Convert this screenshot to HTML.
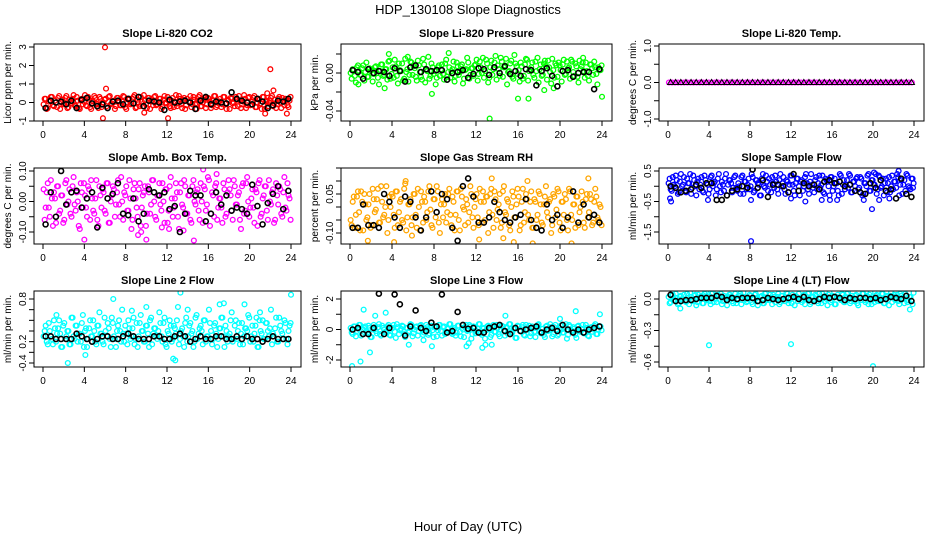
<!DOCTYPE html>
<html><head><meta charset="utf-8"><style>
html,body{margin:0;padding:0;background:#fff;}
svg{display:block;font-family:"Liberation Sans",Arial,sans-serif;}
</style></head><body>
<svg id="chart" width="936" height="540" viewBox="0 0 936 540" xmlns="http://www.w3.org/2000/svg">
<text x="468" y="14" text-anchor="middle" font-size="13">HDP_130108  Slope Diagnostics</text>
<text x="468" y="531" text-anchor="middle" font-size="13">Hour of Day (UTC)</text>
</svg>
<script>
// ---- data ----
const xTicks=[0,4,8,12,16,20,24];
const titles=["Slope Li-820 CO2","Slope Li-820 Pressure","Slope Li-820 Temp.","Slope Amb. Box Temp.","Slope Gas Stream RH","Slope Sample Flow","Slope Line 2 Flow","Slope Line 3 Flow","Slope Line 4 (LT) Flow"];
const yTitles=["Licor ppm per min.","kPa per min.","degrees C per min.","degrees C per min.","percent per min.","ml/min per min.","ml/min per min.","ml/min per min.","ml/min per min."];
const yTickVals=[[-1,0,1,2,3],[-0.04,-0.02,0,0.02],[-1,-0.5,0,0.5,1],[-0.1,-0.05,0,0.05,0.1],[-0.1,-0.05,0,0.05,0.1,0.15],[-1.5,-1,-0.5,0,0.5],[-0.4,-0.2,0,0.2,0.4,0.6,0.8],[-2,-1,0,1,2],[-0.6,-0.45,-0.3,-0.15,0]];
const yTickLabels=[["-1","0","1","2","3"],["-0.04","","0.00",""],["-1.0","","0.0","","1.0"],["-0.10","","0.00","","0.10"],["-0.10","","","0.05","",""],["-1.5","","-0.5","","0.5"],["-0.4","","0.2","","","","0.8"],["-2","","0","","2"],["-0.6","","-0.3","","0.0"]];
const yRanges=[[-1,3],[-0.04,0],[-1,1],[-0.1,0.1],[-0.1,0.05],[-1.5,0.5],[-0.4,0.8],[-2,2],[-0.6,0]];
const colors=["#ff0000","#00ff00","#ff00ff","#ff00ff","#ffa500","#0000ff","#00ffff","#00ffff","#00ffff"];

const s1=[-.1,.2,-.3,.1,.3,-.2,0,.25,-.35,.15,-.05,.35,-.25,.05,.2,-.15,.3,-.3,.1,-.1,.4,-.2,.15,-.35,.05,.25,-.1,.3,-.25,0,.2,-.3,.35,-.05,.1,-.2,.25,-.15,.05,.3,-.35,.15,-.1,.2,.4,-.25,0,.3,-.2,.1,-.3,.25,.05,-.15,.35,-.1,.2,-.35,.15,0,.3,-.2,.1,-.25,.4,-.05,.2,-.3,.25,-.15,.05,.35,-.1,.15,-.35,.3,-.2,0,.25,-.1,.2,-.3,.1,.35,-.15,.05,-.25,.3,-.05,.15,-.35,.2,0,.3,-.2,.1,-.1,.4,-.3,.25,-.15,.05,.35,-.25,.2,-.05,.3,-.35,.1,0,.25,-.2,.15,-.1,.3,-.3,.05,.2,-.15,.1];
const s2=[0,.004,-.003,.006,.002,-.002,.008,.001,-.004,.005,.003,-.001,.007,-.005,.002,.009,-.002,.004,.012,-.006,.006,.014,-.003,.01,.002,-.008,.015,.004,-.002,.011,.007,-.004,.013,.001,-.007,.009,.003,.017,-.003,.006,.002,-.005,.008,.004,-.001,.01,-.004,.006,.002,.012,-.003,.007,.001,.009,-.006,.004,.011,-.002,.005,.008,.014,-.001,.006,.016,.002,.01,-.005,.013,.004,.018,.008,-.003,.012,.006,.015,.001,.01,-.004,.019,.007,.003,.011,-.006,.009,.014,.002,.006,-.002,.012,.016,.004,-.003,.01,.007,.013,.001,.015,-.005,.008,.011,.003,.009,-.002,.012,.006,.014,.001,.01,-.004,.013,.007,.002,.011,-.003,.009,.005,.012,-.001,.006,.003];
const s3=[0,0,0,0,0,0,0,0,0,0,0,0,0,0,0,0,0,0,0,0,0,0,0,0,0,0,0,0,0,0,0,0,0,0,0,0,0,0,0,0,0,0,0,0,0,0,0,0,0,0,0,0,0,0,0,0,0,0,0,0,0,0,0,0,0,0,0,0,0,0,0,0,0,0,0,0,0,0,0,0];
const s4=[.04,-.02,.06,-.05,.01,.03,-.07,.05,-.03,.02,-.06,.07,0,-.04,.05,-.01,.03,-.08,.06,-.02,.02,-.05,.04,.07,-.03,.01,-.06,.05,-.02,.03,-.04,.06,-.07,.02,.04,-.01,.07,-.05,0,.03,.05,-.03,.01,-.06,.06,-.02,.04,-.08,.02,.05,-.04,.03,-.01,.07,-.05,.02,.06,-.03,0,.04,-.07,.05,.01,-.02,.06,-.05,.03,-.01,.07,-.04,.02,-.06,.05,0,.03,-.03,.06,-.07,.04,-.01,.07,-.04,.02,.05,-.06,.01,-.02,.06,-.05,.03,.04,-.03,.07,-.01,.02,-.06,.05,-.04,.06,0,-.02,.04,-.07,.03,.06,-.05,.01,.05,-.03,.07,-.01,.04,-.06,.02,.05,-.04,.03,-.02,.06,.01];
const s5=[-.05,.02,-.08,.04,-.02,.06,-.09,.01,-.04,.05,-.07,.03,-.01,.07,-.06,.02,-.03,.08,-.05,0,.04,-.08,.06,-.02,.03,-.06,.09,-.04,.01,-.07,.05,-.03,.07,-.09,.02,.04,-.05,.06,-.01,-.08,.03,.08,-.06,.01,-.04,.05,-.02,.07,-.07,.02,-.03,.06,-.09,.04,-.01,.03,-.06,.08,-.04,0,.05,-.07,.02,.06,-.05,.04,-.02,.07,-.08,.03,-.01,.05,-.06,.08,-.03,.02,-.09,.06,-.04,.01,.04,-.07,.07,-.02,.03,-.05,.06,-.08,.02,-.03,.05,-.06,.01,.08,-.04,.03,-.07,.04,-.01,.06,-.09,.02,.05,-.05,.07,-.03,.01,-.08,.04,-.02,.06,-.06,.03,-.04,.05,-.07,.02,.04,-.05,0];
const s6=[.1,-.1,.3,0,.2,-.2,.4,.05,-.15,.25,.1,-.25,.35,0,.15,-.1,.3,-.2,.2,.05,-.1,.35,.1,-.3,.25,0,.15,-.15,.4,.05,.2,-.2,.3,-.05,.1,-.25,.35,.15,-.1,.25,0,.3,-.15,.2,.05,-.3,.4,-.05,.15,.25,-.2,.1,.35,-.1,.2,0,.3,-.25,.15,.05,.35,-.15,.1,.25,-.3,.2,0,.4,-.1,.15,.05,-.2,.3,.1,-.05,.35,-.25,.2,0,.3,-.15,.25,.1,-.3,.35,.05,-.1,.2,.4,-.2,.15,0,.3,-.05,.25,-.25,.1,.35,-.15,.2,.05,.4,-.1,.3,0,-.3,.25,.1,-.2,.35,.15,-.05,.3,.05,-.25,.2,.4,0,-.1,.25];
const s7=[.1,.3,-.05,.2,.05,.4,0,.25,.15,-.1,.35,.1,.2,-.05,.45,.05,.3,.15,0,.5,.2,-.1,.25,.1,.4,0,.3,.55,.15,-.05,.2,.35,.05,.45,.1,-.1,.3,.2,.6,0,.15,.4,.05,.25,-.05,.35,.1,.5,.2,0,.3,-.1,.45,.15,.25,.05,.55,.1,.35,-.05,.2,.4,0,.3,.15,.65,.05,.25,-.1,.45,.1,.35,.2,0,.5,.15,.3,-.05,.4,.1,.6,.2,.05,.35,-.1,.25,.45,.1,.3,0,.15,.55,.05,.4,.2,-.05,.35,.1,.25,.5,0,.3,.15,.45,-.1,.2,.4,.05,.35,.1,.6,.15,.25,0,.45,.2,.05,.35,-.05,.3];
const s8=[.1,-.3,.2,-.1,.3,-.4,0,.2,-.2,.1,-.5,.3,-.1,.15,-.3,.25,0,-.2,.3,-.4,.1,-.15,.35,-.3,.05,.2,-.5,.1,-.1,.3,-.25,.15,-.4,.25,0,-.2,.3,-.35,.1,-.05,.2,-.45,.3,-.1,.15,-.3,.05,.35,-.2,0,-.4,.25,-.15,.1,-.5,.3,-.05,.2,-.3,.15,-.1,.35,-.25,.05,-.6,.2,0,-.35,.3,-.15,.1,-.45,.25,-.05,.15,-.3,.35,-.2,.05,-.55,.2,-.1,.3,-.4,0,.25,-.25,.1,-.5,.3,-.15,.05,-.35,.2,-.1,.35,-.45,.15,0,-.3,.25,-.2,.1,-.6,.3,-.05,.15,-.35,.2,-.1,.05,-.25,.3,-.4,.1,-.15,.25,-.3,0,.2];
const s9=[.02,-.03,.04,-.01,.01,-.04,.03,0,-.02,.05,-.05,.02,-.01,.04,-.03,.01,.03,-.04,.02,0,-.02,.05,-.03,.01,.04,-.01,-.05,.03,0,.02,.04,-.02,.01,-.04,.03,.05,-.01,.02,-.03,0,.03,-.05,.04,.01,-.02,.02,-.04,.05,0,-.01,.01,.04,-.03,.02,-.05,.03,0,-.02,.05,-.01,-.04,.02,.03,-.02,.01,-.03,.04,0,.05,-.05,.02,-.01,.03,-.04,.01,.05,-.02,0,.04,-.03,.03,-.05,.02,.01,-.01,.04,-.03,.05,0,-.02,.01,.03,-.04,.02,-.01,.05,-.03,.02,.04,-.05,0,.03,-.02,.01,.05,-.04,.02,-.01,.03,-.03,.04,0,-.02,.05,.01,-.04,.03,-.01,.02,-.05];
const series=[s1,s2,s3,s4,s5,s6,s7,s8,s9];

const t1=[.2,-.35,.05,.3,-.15,.1,-.25,.35,0,-.1,.25,-.3,.15,-.05,.4,-.2,.1,-.35,.2,.05,-.15,.3,-.25,.1,.35,-.05,-.3,.2,0,.15,-.2,.3,-.1,.05,-.35,.25,.1,-.15,.35,-.25,0,.2,-.05,.3,-.3,.15,-.2,.05,.4,-.1,.25,-.35,.1,.3,-.15,0,.2,-.25,.35,-.05,.1,-.3,.25,.05,-.2,.35,-.1,.15,-.35,.2,0,-.25,.3,-.05,.1,.4,-.2,.15,-.3,.25,.05,-.15,.35,-.25,0,.2,-.1,.3,-.35,.1,.25,-.05,-.2,.15,.35,-.3,.05,.2,-.15,.3,-.1,.25,-.25,0,.15,-.35,.3,.05,-.2,.1,.35,-.05,-.3,.2,0,.25,-.15,.1,-.25,.3];
const t2=[-.006,.003,-.01,.008,-.002,.005,-.008,.011,-.004,.002,-.009,.006,0,-.012,.009,-.003,.004,-.007,.013,-.001,-.005,.007,-.011,.003,.01,-.006,.001,-.009,.012,-.002,.005,-.008,.008,-.004,.015,-.01,.002,-.006,.01,-.001,-.012,.006,-.003,.009,-.007,.014,.001,-.005,.004,-.009,.011,-.002,.007,-.011,.003,.016,-.006,.005,-.003,.009,-.008,.012,0,-.005,.014,-.01,.006,-.002,.011,-.007,.004,.016,-.004,.008,-.012,.002,.013,-.006,.01,-.001,-.009,.007,-.003,.015,-.008,.004,.011,-.005,.002,-.01,.009,-.002,.013,-.007,.006,-.011,.003,.01,-.004,.008,-.009,.014,-.001,.005,-.006,.012,-.003,.007,-.01,.004,.011,-.005,.002,-.008,.009,-.002,.006,-.012,.003,.008];
const t3=[];
const t4=[-.06,.03,-.02,.07,-.08,.01,.05,-.04,.02,-.07,.06,-.01,.04,-.05,.08,-.03,0,-.09,.03,.06,-.02,.05,-.06,.01,-.04,.07,-.08,.02,.04,-.03,.06,-.07,0,.05,-.05,.03,-.01,.08,-.06,.02,-.03,.07,-.09,.04,.01,-.05,.06,-.02,.03,-.08,.05,-.04,.07,0,-.06,.02,-.01,.06,-.07,.04,-.03,.08,-.05,.01,.03,-.09,.06,-.02,.05,-.04,.02,-.07,.07,-.01,.04,-.06,0,.05,-.03,.08,-.08,.03,-.05,.06,-.02,.01,-.07,.04,-.04,.07,.02,-.06,.05,-.01,.03,-.09,.06,-.03,.08,-.05,.01,-.02,.04,-.08,.07,-.04,.02,.05,-.06,0,.03,-.07,.06,-.01,.04,-.05,.08,-.03,.02,-.06];
const t5=[-.07,.04,-.03,.06,-.09,.02,.05,-.05,.01,-.08,.07,-.02,.03,-.06,.08,-.04,0,-.1,.04,.05,-.03,.06,-.07,.02,-.05,.07,-.09,.01,.03,-.04,.05,-.08,0,.06,-.06,.02,-.02,.08,-.07,.03,-.04,.06,-.1,.03,.01,-.06,.05,-.03,.04,-.09,.06,-.05,.07,0,-.07,.01,-.02,.05,-.08,.03,-.04,.07,-.06,.02,.04,-.1,.05,-.03,.06,-.05,.01,-.08,.06,-.02,.03,-.07,0,.04,-.04,.07,-.09,.02,-.06,.05,-.03,.02,-.08,.03,-.05,.06,.01,-.07,.04,-.02,.02,-.1,.05,-.04,.07,-.06,.02,-.03,.03,-.09,.06,-.05,.01,.04,-.07,0,.02,-.08,.05,-.02,.03,-.06,.07,-.04,.01,-.07];
const t6=[.25,-.15,.05,.35,-.25,.15,0,.3,-.2,.1,.4,-.05,.2,-.3,.25,.05,-.15,.35,.1,-.25,.3,0,.15,-.1,.4,-.2,.05,.25,-.3,.2,.1,-.05,.35,-.15,0,.3,-.25,.15,.05,-.1,.4,-.2,.2,.1,-.3,.25,0,.35,-.15,.05,.3,-.05,.15,-.25,.4,.1,-.1,.2,-.2,.35,.05,-.3,.25,0,.15,-.15,.3,.1,-.25,.4,-.05,.2,-.1,.35,.05,-.2,.25,.15,-.3,.3,0,.1,-.15,.4,-.25,.2,.05,-.05,.35,-.2,.15,.25,-.1,.3,-.3,.1,0,.4,-.15,.2,.05,-.25,.35,-.05,.25,.1,-.2,.3,0,-.1,.15,.4,-.3,.2,.05,-.15,.35,-.05,.25,.1];
const t7=[.2,0,.35,.1,-.05,.25,.15,.4,-.1,.3,.05,.2,-.05,.45,.1,.3,0,.15,.35,-.1,.25,.05,.4,.1,.2,-.05,.3,.15,0,.45,.1,.25,-.1,.35,.05,.2,.4,0,.15,.3,-.05,.25,.1,.45,.05,-.1,.35,.2,0,.3,.15,.4,-.05,.25,.1,.2,.35,0,.45,-.1,.15,.3,.05,.25,.4,-.05,.2,.1,.35,0,.3,.15,-.1,.45,.05,.25,.2,.4,0,.1,.35,-.05,.3,.15,.05,.25,.45,-.1,.2,.1,.4,0,.3,.05,.35,.15,-.05,.25,.2,.45,.1,0,.3,-.1,.4,.15,.05,.35,.2,.25,-.05,.1,.45,0,.3,.15,.4,.05,.2,.35];
const t8=[-.2,.2,-.45,.05,.3,-.3,.1,-.1,.25,-.5,0,.15,-.25,.35,-.4,.1,-.15,.2,-.35,.05,.3,-.55,.15,-.05,.25,-.3,.1,-.2,.35,-.45,0,.2,-.1,.3,-.35,.05,.15,-.25,.25,-.5,.1,-.05,.3,-.4,.2,-.15,.05,.35,-.3,.1,-.2,.25,-.45,0,.15,-.1,.3,-.6,.2,-.25,.05,.35,-.35,.1,-.05,.25,-.5,.15,-.15,.3,-.3,0,.2,-.4,.1,.35,-.2,.05,-.55,.25,-.1,.15,-.35,.3,0,-.45,.2,-.15,.1,.35,-.25,.05,-.5,.25,-.05,.15,-.3,.3,-.4,.1,0,-.2,.35,-.35,.2,-.1,.05,-.55,.25,-.15,.3,-.25,.1,-.45,.15,0,.35,-.3,.2,-.05];
const t9=[-.04,.03,-.01,.05,-.05,.02,0,.04,-.03,.01,.06,-.02,.03,-.06,.04,.01,-.04,.05,-.01,.02,-.05,.06,0,-.03,.03,.05,-.02,.01,-.06,.04,.02,-.04,.05,-.01,.03,-.05,.06,0,-.02,.04,-.03,.01,.05,-.06,.02,.03,-.04,.06,-.01,.04,-.05,.02,0,.05,-.03,.03,-.02,.06,-.04,.01,.04,-.06,.02,.05,-.01,.03,-.05,0,.06,-.03,.02,.04,-.02,.05,-.04,.01,.03,-.06,.06,-.01,.02,-.05,.04,0,.05,-.03,.01,.06,-.04,.03,-.02,.04,-.06,.02,.05,-.01,.03,-.05,.06,0,-.03,.04,-.02,.01,.05,-.04,.03,-.06,.06,.02,-.01,.04,-.05,.03,0,.05,-.03,.02,-.02,.06];
const series2=[t1,t2,t3,t4,t5,t6,t7,t8,t9];

const outX=[[5.8,6,6.1,9.8,12.1,21.5,21.7,22,22.3,23.6],[0.8,3.3,3.7,5.5,7.8,9.4,13.3,16,17,18.5,19.4,22.2,24],[],[4,9.2,9.5,10,11.5,12.2,13.6,14.6,15.5,16.8],[1.7,4.2,5.3,5.9,12.3,13.5,14.6,15.6,16.9,17.4,21.1,22.7],[.2,.3,3.9,8.1,8.1,12,13.4,15,15.8,16.5,19.1,19.9,20.1,20.6,21.6,22.5,23.9],[1.3,6.8,8.6,10,12.6,12.8,13.3,14,17.1,17.5,19.5,21,2.4,4.1,24],[.2,1,1.3,1.9,2.4,3.4,5.6,7,7.8,11.1,11.3,14.8,20,21.5,23.8,13.5,12.6,12.9],[4,12,20,23.6,3.7,1.2]];
const outY=[[-0.85,2.98,0.75,-0.55,-0.85,-0.6,0.5,1.8,0.65,-0.6],[-.012,-.016,.02,.017,-.022,.021,-.048,-.027,-.027,-.018,-.016,.016,-.025],[],[-.125,-.11,-.1,-.125,-.085,-.09,-.095,-.128,.105,.09],[-.13,-.135,.1,-.11,-.125,.11,-.12,-.135,.1,-.14,-.14,.11],[-.4,-.5,-.45,-.45,-1.8,-.4,-.5,-.45,-.45,-.45,-.45,-.75,.45,-.45,-.4,.5,-.05],[.5,.8,.58,.65,-.32,-.35,.92,.6,.7,.72,.7,.55,-.4,-.25,.88],[-2.4,-2.1,1.3,-1.5,.9,1.1,-1,-.7,-1.1,-1.1,-.9,.9,.7,1.2,1,-1,-1.2,-1],[-.44,-.43,-.64,-.1,.07,-.09]];

const k1=[-.3,.1,0,.05,-.1,.1,-.3,.15,.25,-.05,-.2,-.1,-.3,.05,.1,-.1,.2,-.05,.3,-.2,.1,.05,0,-.4,.15,0,.05,.1,0,-.35,.1,.3,-.1,.05,0,-.05,.55,.2,.1,0,-.1,.2,.05,-.3,-.15,.1,.05,.2];
const k2=[.003,.001,-.006,.004,0,.002,.001,-.003,.005,.002,-.009,.006,.008,.001,.004,.002,.003,.003,-.007,0,.001,.003,-.005,-.001,.005,.004,-.002,.006,0,.007,-.001,.002,-.003,.004,.003,-.013,.002,.005,-.003,-.014,.002,.003,-.004,0,.001,.001,-.017,.004];
const k3=[0,0,0,0,0,0,0,0,0,0,0,0,0,0,0,0,0,0,0,0,0,0,0,0,0,0,0,0,0,0,0,0,0,0,0,0,0,0,0,0,0,0,0,0,0,0,0,0];
const k4=[-.075,.03,-.05,.1,-.01,.03,.035,-.02,.01,.03,-.085,.045,.01,.025,.06,-.04,-.045,.01,-.065,-.04,.04,.03,.02,.03,-.025,-.015,-.1,-.04,.035,.02,.02,-.065,-.04,.03,-.01,.02,-.03,-.02,-.025,-.04,.055,-.015,-.075,-.005,.025,.05,-.025,.035];
const k5=[-.08,-.08,.01,-.07,-.07,-.08,.05,.02,-.04,-.08,.04,.02,-.04,-.09,-.04,.06,-.02,.05,.03,-.08,-.13,.08,.11,.04,-.06,-.06,-.04,.02,-.02,-.05,-.06,-.04,-.03,.03,-.05,-.08,-.09,.01,-.05,-.03,-.08,-.04,.06,-.06,.01,-.04,-.03,-.06];
const k6=[0,-.05,-.2,-.15,-.1,.05,-.05,.1,.1,-.45,-.45,-.3,-.15,-.1,0,-.05,.55,-.05,.2,-.35,.05,.05,0,-.2,.4,-.15,.1,0,.05,-.1,.15,.2,.1,.15,0,.05,-.15,-.2,-.25,.1,-.05,.2,-.15,-.1,-.4,.25,-.25,-.35];
const k7=[.1,.1,.05,.05,.05,.05,.15,.1,.05,0,.05,.1,.1,.05,.05,.1,.15,.1,.05,.05,.05,.1,.1,.05,.05,.1,.15,.1,0,.05,.1,.05,.05,.1,.1,.05,.05,.1,.05,.1,.05,.05,0,.05,.1,.05,.05,.05];
const k8=[0,.1,-.3,-.3,.1,2.35,-.3,.1,2.3,1.65,-.4,.2,1.25,.1,-.1,.45,.2,2.3,-.2,-.1,1.15,.3,.05,.1,-.2,-.2,.1,.2,.3,-.1,-.3,.1,-.1,0,.1,.2,-.2,0,.1,-.1,.3,0,-.2,0,-.2,0,.1,.2];
const k9=[.04,-.02,-.02,-.01,-.01,0,.01,.01,.01,.03,.02,-.01,.01,0,.01,.01,.01,-.02,-.01,.01,0,-.01,0,.01,.02,0,.02,-.01,-.02,0,.02,.01,.02,.01,-.01,.01,0,.01,.01,0,.01,-.01,0,.02,.01,0,.03,-.02];
const blacks=[k1,k2,k3,k4,k5,k6,k7,k8,k9];

// ---- layout ----
const NS="http://www.w3.org/2000/svg";
const svg=document.getElementById('chart');
const boxL=[34,341,659],boxR=[301,612,924],boxT=[44,168,291],boxB=[121,244,367];
const yPix=[[121,47],[111,73],[119,46],[232,171],[233,194],[232,171],[363,299],[360,299],[362,299]];
function mk(tag,attrs,parent){const e=document.createElementNS(NS,tag);for(const k in attrs)e.setAttribute(k,attrs[k]);(parent||svg).appendChild(e);return e;}

for(let p=0;p<9;p++){
  const c=p%3,r=Math.floor(p/3);
  const L=boxL[c],R=boxR[c],T=boxT[r],B=boxB[r];
  const x0=L+9,x1=R-10;
  const xs=h=>x0+(h/24)*(x1-x0);
  const [v0,v1]=yRanges[p],[p0,p1]=yPix[p];
  const ys=v=>p0+(v-v0)*(p1-p0)/(v1-v0);
  const g=mk('g',{});
  
  
  const clipId='clip'+p;
  const cp=mk('clipPath',{id:clipId},g);mk('rect',{x:L,y:T,width:R-L,height:B-T},cp);
  const t=mk('text',{x:(L+R)/2,y:T-7,'text-anchor':'middle','font-size':'11','font-weight':'bold'},g);
  t.textContent=titles[p];
  
  
  const yt=mk('text',{x:0,y:0,'text-anchor':'middle','font-size':'10',transform:`translate(${L-23},${(T+B)/2}) rotate(-90)`},g);
  yt.textContent=yTitles[p];
  
  
  const pg=mk('g',{'clip-path':`url(#${clipId})`,fill:'none','stroke-width':'1.3'},g);
  
  
  const s=series[p],n=s.length;
  s.forEach((v,i)=>{const e=mk('circle',{cx:xs((i+0.3)*24/n),cy:ys(v),r:2.4,stroke:colors[p]},pg);
    
    });
  const s2b=series2[p],n2=s2b.length;
  s2b.forEach((v,i)=>{const e=mk('circle',{cx:xs((i+0.8)*24/n2),cy:ys(v),r:2.4,stroke:colors[p]},pg);
    
    });
  outX[p].forEach((h,i)=>{const e=mk('circle',{cx:xs(h),cy:ys(outY[p][i]),r:2.4,stroke:colors[p]},pg);
    
    });
  const b=blacks[p],m=b.length;
  b.forEach((v,i)=>{const cx=xs((i+0.5)*24/m),cy=ys(v);let e;
    if(p===2){e=mk('polygon',{points:`${cx},${cy-3} ${cx-3},${cy+2} ${cx+3},${cy+2}`,stroke:'#000','stroke-width':'1'},pg);}
    else e=mk('circle',{cx:cx,cy:cy,r:2.5,stroke:'#000','stroke-width':'1.6'},pg);
    
    });
  const bx=mk('rect',{x:L,y:T,width:R-L,height:B-T,fill:'none',stroke:'#000','stroke-width':'1'},g);
  
  
  const xa=mk('g',{},g);
  
  
  mk('line',{x1:xs(0),x2:xs(24),y1:B,y2:B,stroke:'#000'},xa);
  xTicks.forEach(h=>{mk('line',{x1:xs(h),x2:xs(h),y1:B,y2:B+5,stroke:'#000'},xa);
    const tl=mk('text',{x:xs(h),y:B+17,'text-anchor':'middle','font-size':'10'},xa);tl.textContent=String(h);
    
    });
  const ya=mk('g',{},g);
  
  
  const tv=yTickVals[p];
  mk('line',{x1:L,x2:L,y1:ys(tv[0]),y2:ys(tv[tv.length-1]),stroke:'#000'},ya);
  tv.forEach((v,i)=>{const y=ys(v);mk('line',{x1:L-5,x2:L,y1:y,y2:y,stroke:'#000'},ya);
    const lab=yTickLabels[p][i];
    if(lab){const tl=mk('text',{x:0,y:0,'text-anchor':'middle','font-size':'10',transform:`translate(${L-8},${y}) rotate(-90)`},ya);tl.textContent=lab;
      
      }});
}
</script>
</body></html>
